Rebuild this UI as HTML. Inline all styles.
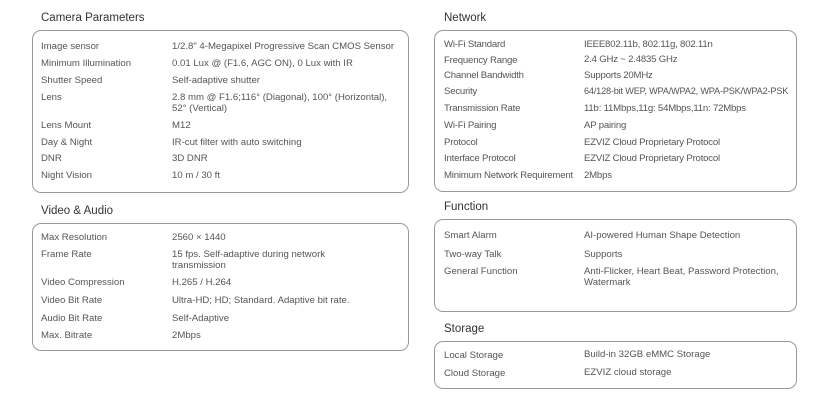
<!DOCTYPE html>
<html><head><meta charset="utf-8"><style>
body{margin:0;width:823px;height:403px;background:#fff;position:relative;overflow:hidden;font-family:"Liberation Sans",sans-serif;}
.t{position:absolute;font-size:11.5px;color:#333;white-space:nowrap;}
.b{position:absolute;border:1px solid #999;border-radius:9px;box-sizing:border-box;}
.l,.v{position:absolute;font-size:9.6px;color:#555;white-space:nowrap;line-height:11px;}
.n{letter-spacing:-0.2px;}
</style></head><body>
<div class="t" style="left:41px;top:12px">Camera Parameters</div>
<div class="b" style="left:32px;top:30px;width:377px;height:163px"></div>
<div class="l" style="left:41px;top:41px">Image sensor</div><div class="v" style="left:172px;top:41px">1/2.8" 4-Megapixel Progressive Scan CMOS Sensor</div>
<div class="l" style="left:41px;top:58px">Minimum Illumination</div><div class="v" style="left:172px;top:58px">0.01 Lux @ (F1.6, AGC ON), 0 Lux with IR</div>
<div class="l" style="left:41px;top:75px">Shutter Speed</div><div class="v" style="left:172px;top:75px">Self-adaptive shutter</div>
<div class="l" style="left:41px;top:92px">Lens</div><div class="v" style="left:172px;top:92px">2.8 mm @ F1.6;116° (Diagonal), 100° (Horizontal),<br>52° (Vertical)</div>
<div class="l" style="left:41px;top:120px">Lens Mount</div><div class="v" style="left:172px;top:120px">M12</div>
<div class="l" style="left:41px;top:137px">Day &amp; Night</div><div class="v" style="left:172px;top:137px">IR-cut filter with auto switching</div>
<div class="l" style="left:41px;top:153px">DNR</div><div class="v" style="left:172px;top:153px">3D DNR</div>
<div class="l" style="left:41px;top:170px">Night Vision</div><div class="v" style="left:172px;top:170px">10 m / 30 ft</div>

<div class="t" style="left:41px;top:205px">Video &amp; Audio</div>
<div class="b" style="left:32px;top:223px;width:377px;height:128px"></div>
<div class="l" style="left:41px;top:232px">Max Resolution</div><div class="v" style="left:172px;top:232px">2560 × 1440</div>
<div class="l" style="left:41px;top:249px">Frame Rate</div><div class="v" style="left:172px;top:249px">15 fps. Self-adaptive during network<br>transmission</div>
<div class="l" style="left:41px;top:277px">Video Compression</div><div class="v" style="left:172px;top:277px">H.265 / H.264</div>
<div class="l" style="left:41px;top:295px">Video Bit Rate</div><div class="v" style="left:172px;top:295px">Ultra-HD; HD; Standard. Adaptive bit rate.</div>
<div class="l" style="left:41px;top:313px">Audio Bit Rate</div><div class="v" style="left:172px;top:313px">Self-Adaptive</div>
<div class="l" style="left:41px;top:330px">Max. Bitrate</div><div class="v" style="left:172px;top:330px">2Mbps</div>

<div class="t" style="left:444px;top:12px">Network</div>
<div class="b" style="left:434px;top:30px;width:363px;height:162px"></div>
<div class="l n" style="left:444px;top:39px">Wi-Fi Standard</div><div class="v n" style="left:584px;top:39px">IEEE802.11b, 802.11g, 802.11n</div>
<div class="l n" style="left:444px;top:55px">Frequency Range</div><div class="v n" style="left:584px;top:54px">2.4 GHz ~ 2.4835 GHz</div>
<div class="l n" style="left:444px;top:70px">Channel Bandwidth</div><div class="v n" style="left:584px;top:70px">Supports 20MHz</div>
<div class="l n" style="left:444px;top:86px">Security</div><div class="v n" style="left:584px;top:86px;font-size:9.2px">64/128-bit WEP, WPA/WPA2, WPA-PSK/WPA2-PSK</div>
<div class="l n" style="left:444px;top:103px">Transmission Rate</div><div class="v n" style="left:584px;top:103px">11b: 11Mbps,11g: 54Mbps,11n: 72Mbps</div>
<div class="l n" style="left:444px;top:120px">Wi-Fi Pairing</div><div class="v n" style="left:584px;top:120px">AP pairing</div>
<div class="l n" style="left:444px;top:137px">Protocol</div><div class="v n" style="left:584px;top:137px">EZVIZ Cloud Proprietary Protocol</div>
<div class="l n" style="left:444px;top:153px">Interface Protocol</div><div class="v n" style="left:584px;top:153px">EZVIZ Cloud Proprietary Protocol</div>
<div class="l n" style="left:444px;top:170px">Minimum Network Requirement</div><div class="v n" style="left:584px;top:170px">2Mbps</div>

<div class="t" style="left:444px;top:201px">Function</div>
<div class="b" style="left:434px;top:219px;width:363px;height:93px"></div>
<div class="l" style="left:444px;top:230px">Smart Alarm</div><div class="v" style="left:584px;top:230px">AI-powered Human Shape Detection</div>
<div class="l" style="left:444px;top:249px">Two-way Talk</div><div class="v" style="left:584px;top:249px">Supports</div>
<div class="l" style="left:444px;top:266px">General Function</div><div class="v" style="left:584px;top:266px">Anti-Flicker, Heart Beat, Password Protection,<br>Watermark</div>

<div class="t" style="left:444px;top:323px">Storage</div>
<div class="b" style="left:434px;top:341px;width:363px;height:48px"></div>
<div class="l" style="left:444px;top:350px">Local Storage</div><div class="v" style="left:584px;top:349px">Build-in 32GB eMMC Storage</div>
<div class="l" style="left:444px;top:368px">Cloud Storage</div><div class="v" style="left:584px;top:367px">EZVIZ cloud storage</div>
</body></html>
